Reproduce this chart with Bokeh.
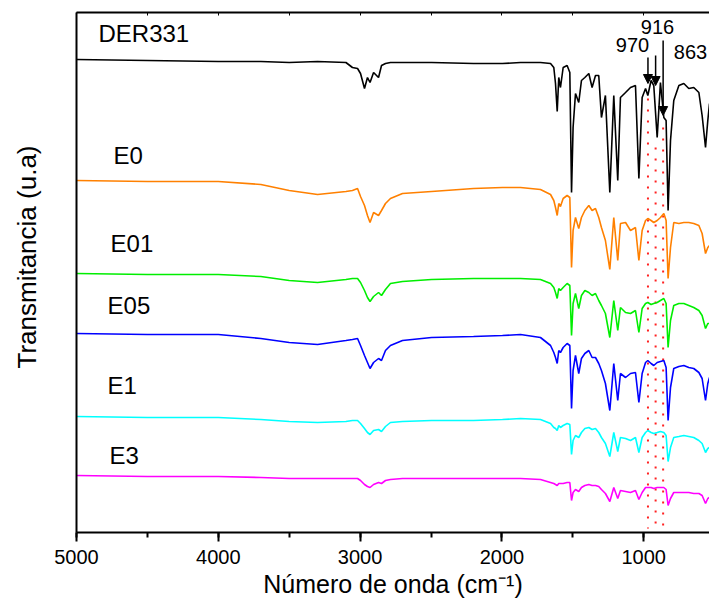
from bokeh.plotting import figure
from bokeh.models import (Range1d, LinearAxis, SingleIntervalTicker, FixedTicker,
                          Arrow, NormalHead, Title)
from bokeh.embed import file_html
from bokeh.resources import INLINE
from bokeh.core.properties import value

# ---------------- data ----------------
wavenumber = [5000, 4500, 4000, 3700, 3500, 3300, 3100, 3054, 3018, 2997, 2969, 2948,
              2930, 2905, 2870, 2849, 2821, 2786, 2701, 2496, 2200, 1996, 1869,
              1728, 1657, 1634, 1622, 1610, 1599, 1587, 1568, 1540, 1521, 1509, 1498,
              1481, 1458, 1439, 1415, 1387, 1364, 1340, 1317, 1298, 1270, 1239, 1211,
              1183, 1164, 1128, 1093, 1058, 1034, 1011, 987, 971, 948, 929, 905, 882,
              858, 842, 828, 811, 788, 752, 717, 682, 647, 611, 588, 564, 548, 536]

der331 = [473, 472, 471, 471, 470, 471, 470, 465, 464, 459, 444, 455, 450, 460, 455,
          467, 469, 470, 470, 470, 469, 469, 470,
          470, 469, 465, 449, 421, 455, 445, 465, 467, 460, 340, 405, 439, 430, 452,
          455, 459, 445, 457, 457, 415, 437, 340, 437, 352, 435, 440, 445, 447, 354,
          435, 444, 437, 452, 447, 395, 450, 415, 412, 322, 392, 432, 447, 449, 444,
          445, 440, 417, 385, 412, 429]

e0 = [352, 351, 351, 348, 342, 338, 341, 342, 344, 336, 327, 317, 310, 320, 317,
      322, 329, 334, 339, 341, 344, 345, 345,
      343, 338, 332, 325, 317, 329, 326, 334, 337, 335, 265, 302, 315, 304, 315,
      322, 327, 322, 324, 315, 305, 292, 263, 315, 272, 309, 310, 302, 305, 272,
      302, 312, 314, 312, 310, 312, 315, 319, 312, 254, 285, 310, 309, 310, 310,
      309, 307, 299, 279, 285, 287]

e01 = [259, 258, 258, 256, 252, 250, 253, 254, 254, 250, 242, 235, 231, 236, 240,
       237, 243, 249, 251, 253, 254, 254, 254,
       253, 249, 245, 240, 234, 244, 242, 245, 249, 247, 197, 229, 239, 224, 237,
       242, 240, 237, 239, 232, 227, 219, 195, 232, 202, 225, 220, 219, 222, 200,
       224, 229, 230, 228, 229, 230, 232, 234, 229, 185, 212, 227, 229, 229, 227,
       225, 222, 217, 204, 209, 209]

e05 = [199, 198, 198, 194, 190, 188, 192, 193, 194, 187, 177, 170, 164, 170, 174,
       172, 182, 187, 192, 195, 196, 197, 198,
       195, 187, 180, 175, 169, 182, 180, 185, 189, 187, 124, 162, 177, 159, 174,
       179, 182, 175, 175, 169, 162, 149, 122, 169, 132, 159, 155, 159, 160, 130,
       159, 170, 172, 169, 167, 170, 171, 172, 165, 112, 145, 164, 166, 167, 165,
       164, 160, 154, 132, 149, 155]

e1 = [116, 115, 115, 113, 111, 110, 111, 112, 112, 109, 104, 100, 98, 102, 103,
      101, 106, 110, 111, 112, 112, 113, 114,
      113, 109, 105, 104, 102, 107, 105, 107, 109, 108, 78, 92, 97, 95, 100,
      104, 105, 103, 104, 100, 95, 89, 76, 100, 81, 95, 94, 92, 95, 80,
      95, 100, 102, 100, 99, 100, 101, 100, 97, 71, 85, 95, 96, 97, 96,
      95, 92, 89, 80, 84, 85]

e3 = [57, 56, 56, 55, 54, 54, 54, 54, 54, 52, 48, 46, 45, 48, 50,
      49, 52, 53, 54, 54, 54, 54, 54,
      53, 50, 49, 48, 47, 49, 49, 49, 50, 50, 32, 40, 43, 41, 45,
      47, 48, 47, 47, 46, 43, 39, 31, 45, 34, 42, 41, 40, 42, 33,
      40, 45, 45, 45, 44, 45, 45, 45, 43, 27, 34, 40, 40, 40, 40,
      39, 39, 37, 29, 34, 35]

series_names = ["DER331", "E0", "E01", "E05", "E1", "E3"]
series_values = [der331, e0, e01, e05, e1, e3]
series_colors = ["#000000", "#FF8000", "#00EE00", "#0000FF", "#00FFFF", "#FF00FF"]

# label anchor positions (wavenumber, u.a.)
label_x = [4845, 4739, 4760, 4781, 4781, 4767]
label_y = [499, 377, 289, 227, 147, 77]

# marked bands
band_names = ["970", "916", "863"]
band_positions = [970, 916, 863]
band_text_x = [1079, 903, 670]
band_text_y = [488, 506, 481]
arrow_start = [475, 477, 492]
arrow_end = [449, 447, 417]
dotted_top = [434, 385, 405]
dotted_bottom = [4, 4, 4]

FONT = "Liberation Sans"

p = figure(width=709, height=606, x_range=Range1d(5000, 536), y_range=Range1d(0, 520),
           output_backend="svg", toolbar_location=None,
           min_border_left=76, min_border_right=0, min_border_top=12, min_border_bottom=74)
p.outline_line_color = None
p.xgrid.visible = False
p.ygrid.visible = False
p.background_fill_color = "white"
p.border_fill_color = "white"

xa = p.xaxis[0]
xa.ticker = SingleIntervalTicker(interval=1000, num_minor_ticks=2)
xa.axis_line_width = 2
xa.major_tick_line_width = 2
xa.minor_tick_line_width = 2
xa.major_tick_in = 0
xa.major_tick_out = 9
xa.minor_tick_in = 0
xa.minor_tick_out = 5
xa.major_label_text_font = FONT
xa.major_label_text_font_size = "20px"
xa.major_label_text_color = "black"
xa.major_label_standoff = 8
xa.axis_label = "Número de onda (cm⁻¹)"
xa.axis_label_text_font = FONT
xa.axis_label_text_font_size = "25px"
xa.axis_label_text_font_style = "normal"
xa.axis_label_text_color = "black"
xa.axis_label_standoff = 3

ya = p.yaxis[0]
ya.ticker = FixedTicker(ticks=[])
ya.axis_line_width = 2
ya.major_tick_in = 0
ya.major_tick_out = 0
ya.minor_tick_in = 0
ya.minor_tick_out = 0
ya.major_label_text_color = None
# invisible spacer label: keeps an empty gap between the spine and the title
ya.axis_label = "\u00a0"
ya.axis_label_text_font_size = "24px"
ya.axis_label_text_color = None
ya.axis_label_standoff = 0

top = LinearAxis(ticker=SingleIntervalTicker(interval=500, num_minor_ticks=0),
                 major_tick_in=3, major_tick_out=0, minor_tick_in=0, minor_tick_out=0,
                 major_label_text_font_size="0px", major_label_text_color=None,
                 major_label_standoff=0, axis_line_width=2, major_tick_line_width=1)
p.add_layout(top, "above")

# y-axis title, placed as in the reference (slightly above the frame centre)
p.add_layout(Title(text="Transmitancia (u.a)", align="right", offset=133, standoff=10,
                   vertical_align="bottom",
                   text_font=FONT, text_font_size="26px", text_font_style="normal",
                   text_color="black"), "left")

# dotted reference lines
p.segment(x0=band_positions, y0=dotted_top, x1=band_positions, y1=dotted_bottom,
          line_color="#FF2020", line_width=2, line_dash="2 9")

for name, vals, col in zip(series_names, series_values, series_colors):
    p.line(wavenumber, vals, line_color=col, line_width=1.6)

p.text(x=label_x, y=label_y, text=series_names, text_font=value(FONT),
       text_font_size=value("24px"), text_align="left", text_baseline="middle",
       text_color="black")

p.text(x=band_text_x, y=band_text_y, text=band_names, text_font=value(FONT),
       text_font_size=value("20px"), text_align="center", text_baseline="middle",
       text_color="black")

for xb, ys, ye in zip(band_positions, arrow_start, arrow_end):
    p.add_layout(Arrow(end=NormalHead(size=9, fill_color="black", line_color="black"),
                       x_start=xb, y_start=ys, x_end=xb, y_end=ye,
                       line_color="black", line_width=1.5))

open("out.html", "w").write(file_html(p, INLINE))
